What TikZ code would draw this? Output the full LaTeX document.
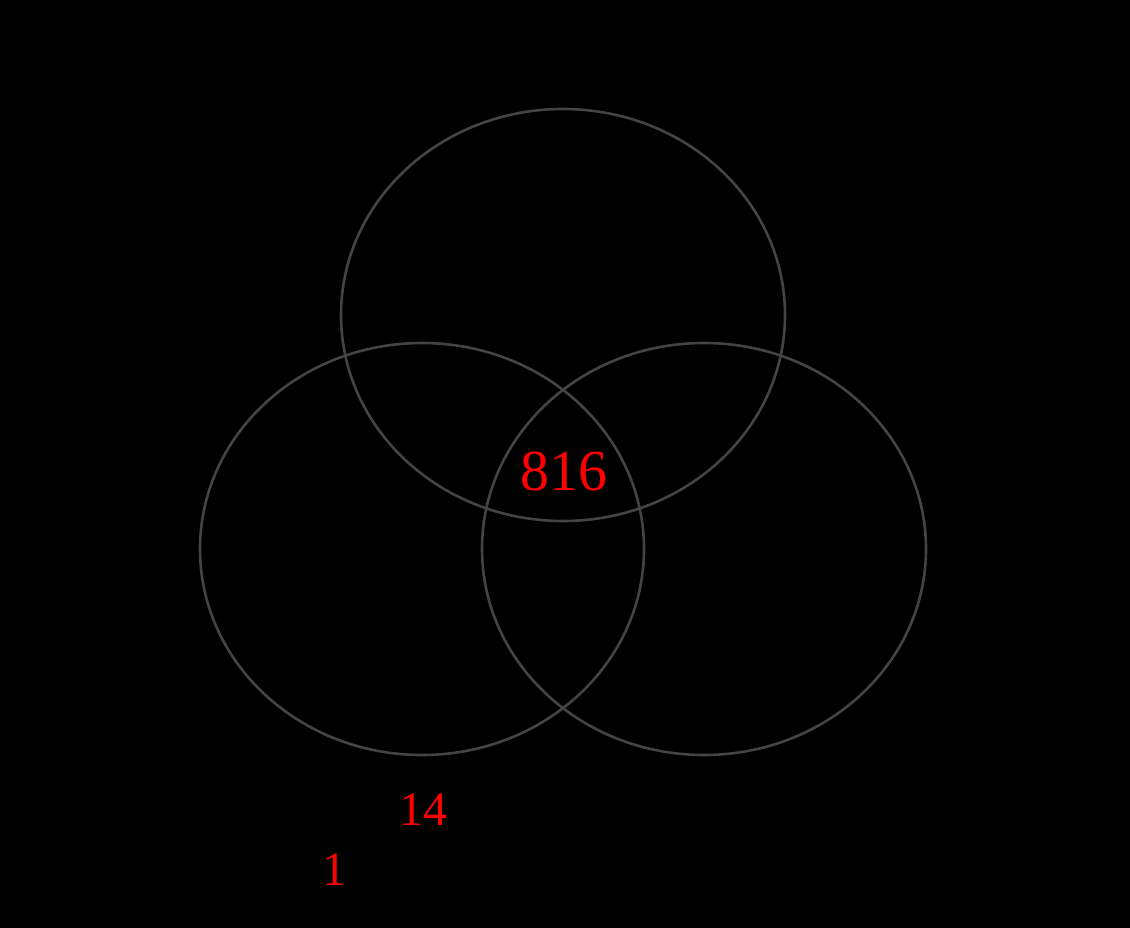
\documentclass[tikz,border=0pt]{standalone}
\usepackage{fontspec}
\setmainfont{Liberation Serif}
\definecolor{ringgray}{HTML}{444444}
\definecolor{numred}{HTML}{FF0000}
\begin{document}
\begin{tikzpicture}[x=1pt,y=-1pt,
  ring/.style={draw=ringgray,line width=2.6pt},
  bignum/.style={text=numred,font=\fontsize{58}{60}\selectfont,inner sep=0pt},
  smallnum/.style={text=numred,font=\fontsize{48}{50}\selectfont,inner sep=0pt}]
\fill[black] (0,0) rectangle (1130,928);
\useasboundingbox (0,0) rectangle (1130,928);
\draw[ring] (563,315) ellipse [x radius=222, y radius=206];
\draw[ring] (422,549) ellipse [x radius=222, y radius=206];
\draw[ring] (704,549) ellipse [x radius=222, y radius=206];
\node[bignum] (center) at (564,471) {816};
\node[smallnum] (a) at (423,810) {14};
\node[smallnum] (b) at (334,870) {1};
\end{tikzpicture}
\end{document}
